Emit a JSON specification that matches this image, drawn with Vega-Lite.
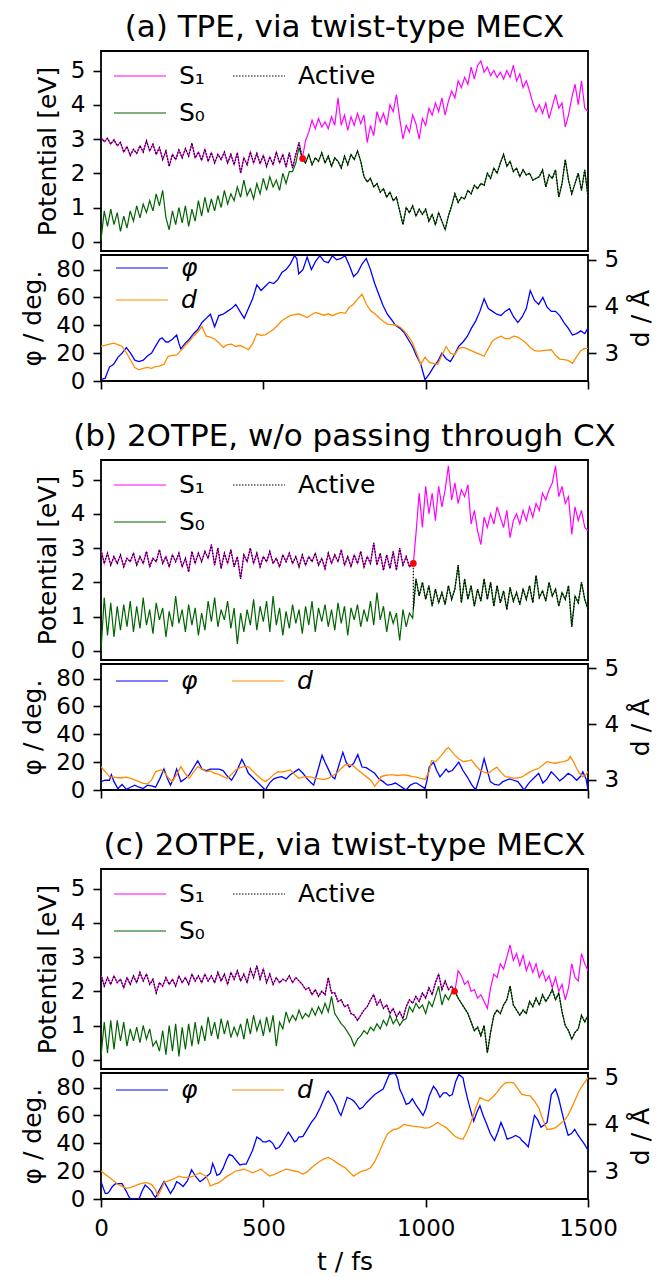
{
"$schema":"https://vega.github.io/schema/vega-lite/v6.json",
"background":"white",
"padding":{"left":19,"top":11,"right":2,"bottom":1},
"bounds":"full",
"spacing":26,
"resolve":{"scale":{"color":"independent","strokeDash":"independent"}},
"config":{
 "font":"DejaVu Sans",
 "view":{"stroke":"#000000","strokeWidth":1.8},
 "axis":{"grid":false,"domain":false,"tickColor":"#000000","tickWidth":1.6,"tickSize":8,"labelFontSize":23,"labelColor":"#000000","labelPadding":8,"titleFontSize":25,"titleFontWeight":"normal","titleColor":"#000000","titlePadding":10,"labelFlush":false,"labelOverlap":false},
 "legend":{"labelFontSize":25,"labelColor":"#000000","symbolStrokeWidth":1.3,"symbolSize":2704,"symbolType":"stroke","padding":0,"labelOffset":12},
 "title":{"fontSize":31,"fontWeight":"normal","color":"#000000","anchor":"middle","frame":"group","baseline":"alphabetic","offset":7},
 "line":{"strokeWidth":1.2}
},
"datasets":{
"H":[{"p":"a","t":621,"v":2.43},{"p":"b","t":962,"v":2.55},{"p":"c","t":1089,"v":2.0}],
"Ea":[
{"t":0,"s1":3.05,"s0":0.05,"act":3.05},{"t":10,"s1":2.92,"s0":0.9,"act":2.92},{"t":20,"s1":3.02,"s0":0.45,"act":3.02},{"t":30,"s1":2.85,"s0":0.95,"act":2.85},{"t":40,"s1":2.98,"s0":0.5,"act":2.98},{"t":50,"s1":2.8,"s0":0.85,"act":2.8},{"t":60,"s1":2.9,"s0":0.3,"act":2.9},{"t":70,"s1":2.62,"s0":0.75,"act":2.62},{"t":80,"s1":2.78,"s0":0.4,"act":2.78},{"t":90,"s1":2.52,"s0":0.9,"act":2.52},
{"t":100,"s1":2.7,"s0":0.6,"act":2.7},{"t":110,"s1":2.58,"s0":1.05,"act":2.58},{"t":120,"s1":2.8,"s0":0.7,"act":2.8},{"t":130,"s1":2.62,"s0":1.1,"act":2.62},{"t":140,"s1":2.95,"s0":0.85,"act":2.95},{"t":150,"s1":2.65,"s0":1.2,"act":2.65},{"t":160,"s1":2.85,"s0":0.9,"act":2.85},{"t":170,"s1":2.55,"s0":1.4,"act":2.55},{"t":180,"s1":2.75,"s0":1.05,"act":2.75},{"t":190,"s1":2.4,"s0":1.5,"act":2.4},
{"t":200,"s1":2.65,"s0":0.7,"act":2.65},{"t":210,"s1":2.2,"s0":0.35,"act":2.2},{"t":220,"s1":2.55,"s0":0.9,"act":2.55},{"t":230,"s1":2.4,"s0":0.5,"act":2.4},{"t":240,"s1":2.68,"s0":1.0,"act":2.68},{"t":250,"s1":2.45,"s0":0.55,"act":2.45},{"t":260,"s1":2.72,"s0":1.05,"act":2.72},{"t":270,"s1":2.5,"s0":0.45,"act":2.5},{"t":280,"s1":2.88,"s0":0.95,"act":2.88},{"t":290,"s1":2.45,"s0":0.6,"act":2.45},
{"t":300,"s1":2.62,"s0":1.2,"act":2.62},{"t":310,"s1":2.38,"s0":0.75,"act":2.38},{"t":320,"s1":2.7,"s0":1.3,"act":2.7},{"t":330,"s1":2.35,"s0":0.85,"act":2.35},{"t":340,"s1":2.6,"s0":1.25,"act":2.6},{"t":350,"s1":2.3,"s0":0.9,"act":2.3},{"t":360,"s1":2.55,"s0":1.35,"act":2.55},{"t":370,"s1":2.4,"s0":1.0,"act":2.4},{"t":380,"s1":2.62,"s0":1.5,"act":2.62},{"t":390,"s1":2.3,"s0":1.1,"act":2.3},
{"t":400,"s1":2.55,"s0":1.4,"act":2.55},{"t":410,"s1":2.25,"s0":1.2,"act":2.25},{"t":420,"s1":2.6,"s0":1.6,"act":2.6},{"t":430,"s1":2.0,"s0":1.3,"act":2.0},{"t":440,"s1":2.45,"s0":1.8,"act":2.45},{"t":450,"s1":2.25,"s0":1.35,"act":2.25},{"t":460,"s1":2.62,"s0":1.55,"act":2.62},{"t":470,"s1":2.3,"s0":1.25,"act":2.3},{"t":480,"s1":2.58,"s0":1.7,"act":2.58},{"t":490,"s1":2.28,"s0":1.4,"act":2.28},
{"t":500,"s1":2.52,"s0":1.85,"act":2.52},{"t":510,"s1":2.2,"s0":1.5,"act":2.2},{"t":520,"s1":2.48,"s0":1.9,"act":2.48},{"t":530,"s1":2.25,"s0":1.6,"act":2.25},{"t":540,"s1":2.62,"s0":1.8,"act":2.62},{"t":550,"s1":2.3,"s0":1.5,"act":2.3},{"t":560,"s1":2.55,"s0":2.0,"act":2.55},{"t":570,"s1":2.18,"s0":1.7,"act":2.18},{"t":580,"s1":2.6,"s0":2.05,"act":2.6},{"t":590,"s1":2.15,"s0":2.05,"act":2.15},
{"t":600,"s1":2.55,"s0":2.3,"act":2.55},{"t":610,"s1":2.9,"s0":2.75,"act":2.9},{"t":620,"s1":2.43,"s0":2.43,"act":2.43},{"t":630,"s1":2.95,"s0":2.3,"act":2.3},{"t":640,"s1":3.2,"s0":2.55,"act":2.55},{"t":650,"s1":3.55,"s0":2.25,"act":2.25},{"t":660,"s1":3.3,"s0":2.45,"act":2.45},{"t":670,"s1":3.6,"s0":2.35,"act":2.35},{"t":680,"s1":3.35,"s0":2.6,"act":2.6},{"t":690,"s1":3.5,"s0":2.3,"act":2.3},
{"t":700,"s1":3.3,"s0":2.5,"act":2.5},{"t":710,"s1":3.65,"s0":2.2,"act":2.2},{"t":720,"s1":3.4,"s0":2.45,"act":2.45},{"t":730,"s1":4.2,"s0":2.35,"act":2.35},{"t":740,"s1":3.4,"s0":2.15,"act":2.15},{"t":750,"s1":3.7,"s0":2.5,"act":2.5},{"t":760,"s1":3.25,"s0":2.25,"act":2.25},{"t":770,"s1":3.65,"s0":2.55,"act":2.55},{"t":780,"s1":3.4,"s0":2.4,"act":2.4},{"t":790,"s1":3.75,"s0":2.65,"act":2.65},
{"t":800,"s1":3.45,"s0":2.35,"act":2.35},{"t":810,"s1":3.7,"s0":1.9,"act":1.9},{"t":820,"s1":2.9,"s0":1.75,"act":1.75},{"t":830,"s1":3.4,"s0":1.85,"act":1.85},{"t":840,"s1":3.1,"s0":1.6,"act":1.6},{"t":850,"s1":3.8,"s0":1.7,"act":1.7},{"t":860,"s1":3.5,"s0":1.45,"act":1.45},{"t":870,"s1":3.75,"s0":1.55,"act":1.55},{"t":880,"s1":3.4,"s0":1.3,"act":1.3},{"t":890,"s1":4.0,"s0":1.45,"act":1.45},
{"t":900,"s1":3.8,"s0":1.2,"act":1.2},{"t":910,"s1":4.3,"s0":1.3,"act":1.3},{"t":920,"s1":3.6,"s0":0.9,"act":0.9},{"t":930,"s1":3.0,"s0":0.5,"act":0.5},{"t":940,"s1":3.4,"s0":1.0,"act":1.0},{"t":950,"s1":3.2,"s0":0.85,"act":0.85},{"t":960,"s1":3.7,"s0":1.05,"act":1.05},{"t":970,"s1":3.45,"s0":0.75,"act":0.75},{"t":980,"s1":3.0,"s0":0.95,"act":0.95},{"t":990,"s1":3.6,"s0":0.8,"act":0.8},
{"t":1000,"s1":3.4,"s0":0.95,"act":0.95},{"t":1010,"s1":3.9,"s0":0.6,"act":0.6},{"t":1020,"s1":3.7,"s0":0.8,"act":0.8},{"t":1030,"s1":4.05,"s0":0.5,"act":0.5},{"t":1040,"s1":3.8,"s0":0.85,"act":0.85},{"t":1050,"s1":4.2,"s0":0.6,"act":0.6},{"t":1060,"s1":3.7,"s0":0.35,"act":0.35},{"t":1070,"s1":4.1,"s0":0.75,"act":0.75},{"t":1080,"s1":4.4,"s0":1.05,"act":1.05},{"t":1090,"s1":4.2,"s0":1.4,"act":1.4},
{"t":1100,"s1":4.7,"s0":1.15,"act":1.15},{"t":1110,"s1":4.5,"s0":1.3,"act":1.3},{"t":1120,"s1":4.8,"s0":1.25,"act":1.25},{"t":1130,"s1":4.6,"s0":1.5,"act":1.5},{"t":1140,"s1":5.1,"s0":1.4,"act":1.4},{"t":1150,"s1":4.75,"s0":1.65,"act":1.65},{"t":1160,"s1":5.15,"s0":1.55,"act":1.55},{"t":1170,"s1":5.28,"s0":1.7,"act":1.7},{"t":1180,"s1":4.95,"s0":1.65,"act":1.65},{"t":1190,"s1":5.1,"s0":2.0,"act":2.0},
{"t":1200,"s1":4.85,"s0":1.85,"act":1.85},{"t":1210,"s1":5.0,"s0":2.15,"act":2.15},{"t":1220,"s1":4.8,"s0":2.0,"act":2.0},{"t":1230,"s1":4.95,"s0":2.3,"act":2.3},{"t":1240,"s1":4.75,"s0":2.55,"act":2.55},{"t":1250,"s1":5.0,"s0":2.2,"act":2.2},{"t":1260,"s1":4.8,"s0":2.35,"act":2.35},{"t":1270,"s1":5.15,"s0":2.05,"act":2.05},{"t":1280,"s1":4.7,"s0":2.15,"act":2.15},{"t":1290,"s1":4.9,"s0":1.9,"act":1.9},
{"t":1300,"s1":4.5,"s0":2.1,"act":2.1},{"t":1310,"s1":4.7,"s0":1.95,"act":1.95},{"t":1320,"s1":4.4,"s0":2.0,"act":2.0},{"t":1330,"s1":4.05,"s0":1.8,"act":1.8},{"t":1340,"s1":3.8,"s0":1.85,"act":1.85},{"t":1350,"s1":4.0,"s0":1.9,"act":1.9},{"t":1360,"s1":3.75,"s0":2.1,"act":2.1},{"t":1370,"s1":4.05,"s0":1.6,"act":1.6},{"t":1380,"s1":3.6,"s0":1.95,"act":1.95},{"t":1390,"s1":3.95,"s0":1.85,"act":1.85},
{"t":1400,"s1":4.3,"s0":2.1,"act":2.1},{"t":1410,"s1":3.9,"s0":1.3,"act":1.3},{"t":1420,"s1":4.05,"s0":1.7,"act":1.7},{"t":1430,"s1":3.35,"s0":2.4,"act":2.4},{"t":1440,"s1":3.7,"s0":1.8,"act":1.8},{"t":1450,"s1":4.2,"s0":1.4,"act":1.4},{"t":1460,"s1":4.6,"s0":1.7,"act":1.7},{"t":1470,"s1":4.0,"s0":2.0,"act":2.0},{"t":1480,"s1":4.7,"s0":1.5,"act":1.5},{"t":1490,"s1":3.9,"s0":2.1,"act":2.1},
{"t":1500,"s1":3.8,"s0":1.3,"act":1.3}],
"Eb":[
{"t":0,"s1":2.95,"s0":0.0,"act":2.95},{"t":10,"s1":2.55,"s0":1.55,"act":2.55},{"t":20,"s1":2.85,"s0":0.45,"act":2.85},{"t":30,"s1":2.5,"s0":1.4,"act":2.5},{"t":40,"s1":2.75,"s0":0.4,"act":2.75},{"t":50,"s1":2.55,"s0":1.3,"act":2.55},{"t":60,"s1":2.8,"s0":0.6,"act":2.8},{"t":70,"s1":2.45,"s0":1.35,"act":2.45},{"t":80,"s1":2.7,"s0":0.7,"act":2.7},{"t":90,"s1":2.6,"s0":1.45,"act":2.6},
{"t":100,"s1":2.85,"s0":0.55,"act":2.85},{"t":110,"s1":2.5,"s0":1.3,"act":2.5},{"t":120,"s1":2.75,"s0":0.65,"act":2.75},{"t":130,"s1":2.55,"s0":1.55,"act":2.55},{"t":140,"s1":2.9,"s0":0.75,"act":2.9},{"t":150,"s1":2.45,"s0":1.2,"act":2.45},{"t":160,"s1":2.7,"s0":0.5,"act":2.7},{"t":170,"s1":2.6,"s0":1.4,"act":2.6},{"t":180,"s1":2.95,"s0":0.9,"act":2.95},{"t":190,"s1":2.55,"s0":1.25,"act":2.55},
{"t":200,"s1":2.75,"s0":0.4,"act":2.75},{"t":210,"s1":2.45,"s0":1.15,"act":2.45},{"t":220,"s1":2.8,"s0":0.7,"act":2.8},{"t":230,"s1":2.6,"s0":1.6,"act":2.6},{"t":240,"s1":2.85,"s0":0.8,"act":2.85},{"t":250,"s1":2.45,"s0":1.2,"act":2.45},{"t":260,"s1":2.7,"s0":0.55,"act":2.7},{"t":270,"s1":2.3,"s0":1.35,"act":2.3},{"t":280,"s1":2.9,"s0":0.75,"act":2.9},{"t":290,"s1":2.55,"s0":1.25,"act":2.55},
{"t":300,"s1":2.85,"s0":0.45,"act":2.85},{"t":310,"s1":2.6,"s0":1.1,"act":2.6},{"t":320,"s1":2.9,"s0":0.6,"act":2.9},{"t":330,"s1":2.7,"s0":1.45,"act":2.7},{"t":340,"s1":3.1,"s0":0.85,"act":3.1},{"t":350,"s1":2.5,"s0":1.55,"act":2.5},{"t":360,"s1":3.0,"s0":0.7,"act":3.0},{"t":370,"s1":2.4,"s0":1.2,"act":2.4},{"t":380,"s1":2.85,"s0":0.9,"act":2.85},{"t":390,"s1":2.55,"s0":1.45,"act":2.55},
{"t":400,"s1":2.95,"s0":0.65,"act":2.95},{"t":410,"s1":2.45,"s0":1.25,"act":2.45},{"t":420,"s1":2.75,"s0":0.2,"act":2.75},{"t":430,"s1":2.1,"s0":1.1,"act":2.1},{"t":440,"s1":2.8,"s0":0.55,"act":2.8},{"t":450,"s1":2.6,"s0":1.2,"act":2.6},{"t":460,"s1":3.0,"s0":0.75,"act":3.0},{"t":470,"s1":2.55,"s0":1.5,"act":2.55},{"t":480,"s1":2.85,"s0":0.6,"act":2.85},{"t":490,"s1":2.45,"s0":1.3,"act":2.45},
{"t":500,"s1":2.75,"s0":0.85,"act":2.75},{"t":510,"s1":2.6,"s0":1.45,"act":2.6},{"t":520,"s1":2.9,"s0":0.55,"act":2.9},{"t":530,"s1":2.55,"s0":1.6,"act":2.55},{"t":540,"s1":2.7,"s0":0.75,"act":2.7},{"t":550,"s1":2.45,"s0":1.25,"act":2.45},{"t":560,"s1":2.8,"s0":0.45,"act":2.8},{"t":570,"s1":2.6,"s0":1.15,"act":2.6},{"t":580,"s1":2.85,"s0":0.65,"act":2.85},{"t":590,"s1":2.55,"s0":1.35,"act":2.55},
{"t":600,"s1":2.75,"s0":0.8,"act":2.75},{"t":610,"s1":2.45,"s0":1.2,"act":2.45},{"t":620,"s1":2.8,"s0":0.5,"act":2.8},{"t":630,"s1":2.5,"s0":1.3,"act":2.5},{"t":640,"s1":2.75,"s0":0.75,"act":2.75},{"t":650,"s1":2.6,"s0":1.45,"act":2.6},{"t":660,"s1":2.85,"s0":0.55,"act":2.85},{"t":670,"s1":2.5,"s0":1.25,"act":2.5},{"t":680,"s1":2.7,"s0":0.85,"act":2.7},{"t":690,"s1":2.4,"s0":1.35,"act":2.4},
{"t":700,"s1":2.85,"s0":0.7,"act":2.85},{"t":710,"s1":2.55,"s0":1.2,"act":2.55},{"t":720,"s1":2.8,"s0":0.6,"act":2.8},{"t":730,"s1":2.6,"s0":1.4,"act":2.6},{"t":740,"s1":2.95,"s0":0.8,"act":2.95},{"t":750,"s1":2.5,"s0":1.3,"act":2.5},{"t":760,"s1":2.75,"s0":0.45,"act":2.75},{"t":770,"s1":2.45,"s0":1.25,"act":2.45},{"t":780,"s1":2.8,"s0":0.9,"act":2.8},{"t":790,"s1":2.55,"s0":1.35,"act":2.55},
{"t":800,"s1":2.9,"s0":0.7,"act":2.9},{"t":810,"s1":2.45,"s0":1.2,"act":2.45},{"t":820,"s1":2.75,"s0":0.85,"act":2.75},{"t":830,"s1":2.55,"s0":1.45,"act":2.55},{"t":840,"s1":3.15,"s0":0.75,"act":3.15},{"t":850,"s1":2.5,"s0":1.7,"act":2.5},{"t":860,"s1":2.85,"s0":0.9,"act":2.85},{"t":870,"s1":2.35,"s0":1.3,"act":2.35},{"t":880,"s1":2.8,"s0":0.55,"act":2.8},{"t":890,"s1":2.4,"s0":1.15,"act":2.4},
{"t":900,"s1":2.9,"s0":0.8,"act":2.9},{"t":910,"s1":2.35,"s0":1.1,"act":2.35},{"t":920,"s1":3.0,"s0":0.3,"act":3.0},{"t":930,"s1":2.5,"s0":1.2,"act":2.5},{"t":940,"s1":2.75,"s0":0.7,"act":2.75},{"t":950,"s1":2.45,"s0":1.1,"act":2.45},{"t":960,"s1":2.55,"s0":0.95,"act":2.55},{"t":962,"s1":2.55,"s0":1.2,"act":2.55},{"t":962,"s1":2.55,"s0":1.2,"act":1.2},{"t":970,"s1":3.4,"s0":2.1,"act":2.1},{"t":980,"s1":4.6,"s0":1.6,"act":1.6},{"t":990,"s1":3.6,"s0":2.0,"act":2.0},
{"t":1000,"s1":4.8,"s0":1.5,"act":1.5},{"t":1010,"s1":4.0,"s0":1.9,"act":1.9},{"t":1020,"s1":4.6,"s0":1.3,"act":1.3},{"t":1030,"s1":3.8,"s0":1.8,"act":1.8},{"t":1040,"s1":4.8,"s0":1.4,"act":1.4},{"t":1050,"s1":4.2,"s0":1.7,"act":1.7},{"t":1060,"s1":4.7,"s0":1.35,"act":1.35},{"t":1070,"s1":5.4,"s0":1.9,"act":1.9},{"t":1080,"s1":4.4,"s0":1.5,"act":1.5},{"t":1090,"s1":4.9,"s0":1.8,"act":1.8},
{"t":1100,"s1":4.3,"s0":2.5,"act":2.5},{"t":1110,"s1":4.7,"s0":1.4,"act":1.4},{"t":1120,"s1":4.5,"s0":2.1,"act":2.1},{"t":1130,"s1":4.85,"s0":1.5,"act":1.5},{"t":1140,"s1":3.7,"s0":1.9,"act":1.9},{"t":1150,"s1":4.1,"s0":1.3,"act":1.3},{"t":1160,"s1":3.5,"s0":1.8,"act":1.8},{"t":1170,"s1":3.1,"s0":1.45,"act":1.45},{"t":1180,"s1":3.9,"s0":2.1,"act":2.1},{"t":1190,"s1":3.6,"s0":1.5,"act":1.5},
{"t":1200,"s1":4.0,"s0":2.0,"act":2.0},{"t":1210,"s1":3.7,"s0":1.3,"act":1.3},{"t":1220,"s1":4.2,"s0":1.9,"act":1.9},{"t":1230,"s1":3.9,"s0":1.4,"act":1.4},{"t":1240,"s1":3.6,"s0":1.75,"act":1.75},{"t":1250,"s1":4.1,"s0":1.2,"act":1.2},{"t":1260,"s1":3.3,"s0":1.85,"act":1.85},{"t":1270,"s1":3.8,"s0":1.45,"act":1.45},{"t":1280,"s1":4.0,"s0":1.7,"act":1.7},{"t":1290,"s1":3.7,"s0":1.35,"act":1.35},
{"t":1300,"s1":4.1,"s0":1.8,"act":1.8},{"t":1310,"s1":3.8,"s0":1.5,"act":1.5},{"t":1320,"s1":4.2,"s0":1.9,"act":1.9},{"t":1330,"s1":3.9,"s0":1.4,"act":1.4},{"t":1340,"s1":4.3,"s0":2.2,"act":2.2},{"t":1350,"s1":4.1,"s0":1.55,"act":1.55},{"t":1360,"s1":4.6,"s0":1.75,"act":1.75},{"t":1370,"s1":4.4,"s0":1.45,"act":1.45},{"t":1380,"s1":4.7,"s0":2.0,"act":2.0},{"t":1390,"s1":4.9,"s0":1.6,"act":1.6},
{"t":1400,"s1":5.4,"s0":1.8,"act":1.8},{"t":1410,"s1":4.5,"s0":1.3,"act":1.3},{"t":1420,"s1":4.8,"s0":1.7,"act":1.7},{"t":1430,"s1":4.3,"s0":1.5,"act":1.5},{"t":1440,"s1":4.5,"s0":1.9,"act":1.9},{"t":1450,"s1":3.4,"s0":0.7,"act":0.7},{"t":1460,"s1":4.2,"s0":1.6,"act":1.6},{"t":1470,"s1":3.8,"s0":1.4,"act":1.4},{"t":1480,"s1":4.1,"s0":2.0,"act":2.0},{"t":1490,"s1":3.6,"s0":1.5,"act":1.5},
{"t":1500,"s1":3.5,"s0":1.2,"act":1.2}],
"Ec":[
{"t":0,"s1":2.5,"s0":0.1,"act":2.5},{"t":10,"s1":2.15,"s0":1.1,"act":2.15},{"t":20,"s1":2.4,"s0":0.2,"act":2.4},{"t":30,"s1":2.2,"s0":1.15,"act":2.2},{"t":40,"s1":2.45,"s0":0.3,"act":2.45},{"t":50,"s1":2.25,"s0":1.15,"act":2.25},{"t":60,"s1":2.35,"s0":0.55,"act":2.35},{"t":70,"s1":2.1,"s0":1.1,"act":2.1},{"t":80,"s1":2.4,"s0":0.4,"act":2.4},{"t":90,"s1":2.2,"s0":0.9,"act":2.2},
{"t":100,"s1":2.45,"s0":0.55,"act":2.45},{"t":110,"s1":2.25,"s0":0.95,"act":2.25},{"t":120,"s1":2.55,"s0":0.5,"act":2.55},{"t":130,"s1":2.3,"s0":1.0,"act":2.3},{"t":140,"s1":2.5,"s0":0.6,"act":2.5},{"t":150,"s1":2.2,"s0":0.9,"act":2.2},{"t":160,"s1":2.35,"s0":0.4,"act":2.35},{"t":170,"s1":1.95,"s0":0.55,"act":1.95},{"t":180,"s1":2.25,"s0":0.25,"act":2.25},{"t":190,"s1":2.15,"s0":0.85,"act":2.15},
{"t":200,"s1":2.4,"s0":0.15,"act":2.4},{"t":210,"s1":2.2,"s0":1.0,"act":2.2},{"t":220,"s1":2.35,"s0":0.25,"act":2.35},{"t":230,"s1":2.15,"s0":1.05,"act":2.15},{"t":240,"s1":2.45,"s0":0.1,"act":2.45},{"t":250,"s1":2.25,"s0":0.95,"act":2.25},{"t":260,"s1":2.4,"s0":0.3,"act":2.4},{"t":270,"s1":2.2,"s0":1.05,"act":2.2},{"t":280,"s1":2.5,"s0":0.4,"act":2.5},{"t":290,"s1":2.3,"s0":1.1,"act":2.3},
{"t":300,"s1":2.45,"s0":0.45,"act":2.45},{"t":310,"s1":2.25,"s0":1.0,"act":2.25},{"t":320,"s1":2.5,"s0":0.55,"act":2.5},{"t":330,"s1":2.3,"s0":1.25,"act":2.3},{"t":340,"s1":2.45,"s0":0.7,"act":2.45},{"t":350,"s1":2.25,"s0":1.1,"act":2.25},{"t":360,"s1":2.55,"s0":0.6,"act":2.55},{"t":370,"s1":2.3,"s0":1.2,"act":2.3},{"t":380,"s1":2.5,"s0":0.75,"act":2.5},{"t":390,"s1":2.2,"s0":1.15,"act":2.2},
{"t":400,"s1":2.55,"s0":0.65,"act":2.55},{"t":410,"s1":2.35,"s0":0.95,"act":2.35},{"t":420,"s1":2.6,"s0":0.7,"act":2.6},{"t":430,"s1":2.3,"s0":1.05,"act":2.3},{"t":440,"s1":2.5,"s0":0.6,"act":2.5},{"t":450,"s1":2.25,"s0":1.2,"act":2.25},{"t":460,"s1":2.65,"s0":0.75,"act":2.65},{"t":470,"s1":2.4,"s0":1.3,"act":2.4},{"t":480,"s1":2.75,"s0":0.85,"act":2.75},{"t":490,"s1":2.35,"s0":1.15,"act":2.35},
{"t":500,"s1":2.65,"s0":0.7,"act":2.65},{"t":510,"s1":2.25,"s0":1.25,"act":2.25},{"t":520,"s1":2.5,"s0":0.8,"act":2.5},{"t":530,"s1":2.2,"s0":1.3,"act":2.2},{"t":540,"s1":2.4,"s0":0.4,"act":2.4},{"t":550,"s1":2.25,"s0":1.1,"act":2.25},{"t":560,"s1":2.35,"s0":0.9,"act":2.35},{"t":570,"s1":2.3,"s0":1.4,"act":2.3},{"t":580,"s1":2.45,"s0":1.1,"act":2.45},{"t":590,"s1":2.25,"s0":1.3,"act":2.25},
{"t":600,"s1":2.4,"s0":1.15,"act":2.4},{"t":610,"s1":2.3,"s0":1.45,"act":2.3},{"t":620,"s1":2.2,"s0":1.2,"act":2.2},{"t":630,"s1":2.05,"s0":1.35,"act":2.05},{"t":640,"s1":2.1,"s0":1.25,"act":2.1},{"t":650,"s1":1.9,"s0":1.5,"act":1.9},{"t":660,"s1":2.05,"s0":1.3,"act":2.05},{"t":670,"s1":1.85,"s0":1.55,"act":1.85},{"t":680,"s1":2.0,"s0":1.35,"act":2.0},{"t":690,"s1":1.9,"s0":1.65,"act":1.9},
{"t":700,"s1":2.4,"s0":1.4,"act":2.4},{"t":710,"s1":1.95,"s0":1.85,"act":1.95},{"t":720,"s1":1.95,"s0":1.35,"act":1.95},{"t":730,"s1":1.7,"s0":1.2,"act":1.7},{"t":740,"s1":1.75,"s0":1.05,"act":1.75},{"t":750,"s1":1.55,"s0":0.95,"act":1.55},{"t":760,"s1":1.6,"s0":0.8,"act":1.6},{"t":770,"s1":1.35,"s0":0.65,"act":1.35},{"t":780,"s1":1.3,"s0":0.4,"act":1.3},{"t":790,"s1":1.15,"s0":0.6,"act":1.15},
{"t":800,"s1":1.3,"s0":0.7,"act":1.3},{"t":810,"s1":1.45,"s0":0.85,"act":1.45},{"t":820,"s1":1.55,"s0":0.75,"act":1.55},{"t":830,"s1":1.75,"s0":0.95,"act":1.75},{"t":840,"s1":1.9,"s0":0.85,"act":1.9},{"t":850,"s1":1.6,"s0":1.05,"act":1.6},{"t":860,"s1":1.75,"s0":0.9,"act":1.75},{"t":870,"s1":1.5,"s0":1.15,"act":1.5},{"t":880,"s1":1.6,"s0":1.0,"act":1.6},{"t":890,"s1":1.35,"s0":1.3,"act":1.35},
{"t":900,"s1":1.5,"s0":1.05,"act":1.5},{"t":910,"s1":1.25,"s0":1.2,"act":1.25},{"t":920,"s1":1.4,"s0":1.0,"act":1.4},{"t":930,"s1":1.2,"s0":1.15,"act":1.2},{"t":940,"s1":1.55,"s0":1.2,"act":1.55},{"t":950,"s1":1.75,"s0":1.55,"act":1.75},{"t":960,"s1":1.65,"s0":1.4,"act":1.65},{"t":970,"s1":1.85,"s0":1.65,"act":1.85},{"t":980,"s1":1.7,"s0":1.5,"act":1.7},{"t":990,"s1":1.95,"s0":1.6,"act":1.95},
{"t":1000,"s1":1.8,"s0":1.35,"act":1.8},{"t":1010,"s1":2.1,"s0":1.7,"act":2.1},{"t":1020,"s1":1.9,"s0":1.55,"act":1.9},{"t":1030,"s1":2.25,"s0":1.85,"act":2.25},{"t":1040,"s1":2.5,"s0":2.15,"act":2.5},{"t":1050,"s1":2.05,"s0":1.6,"act":2.05},{"t":1060,"s1":2.3,"s0":1.9,"act":2.3},{"t":1070,"s1":2.05,"s0":1.75,"act":2.05},{"t":1080,"s1":2.15,"s0":1.95,"act":2.15},{"t":1090,"s1":2.0,"s0":2.0,"act":2.0},
{"t":1100,"s1":2.6,"s0":1.8,"act":1.8},{"t":1110,"s1":2.45,"s0":1.65,"act":1.65},{"t":1120,"s1":2.2,"s0":1.5,"act":1.5},{"t":1130,"s1":2.3,"s0":1.35,"act":1.35},{"t":1140,"s1":2.0,"s0":1.1,"act":1.1},{"t":1150,"s1":2.05,"s0":0.85,"act":0.85},{"t":1160,"s1":1.8,"s0":0.95,"act":0.95},{"t":1170,"s1":1.9,"s0":0.7,"act":0.7},{"t":1180,"s1":1.7,"s0":1.0,"act":1.0},{"t":1190,"s1":1.5,"s0":0.2,"act":0.2},
{"t":1200,"s1":2.1,"s0":0.8,"act":0.8},{"t":1210,"s1":2.5,"s0":1.3,"act":1.3},{"t":1220,"s1":2.4,"s0":1.45,"act":1.45},{"t":1230,"s1":2.8,"s0":1.35,"act":1.35},{"t":1240,"s1":2.65,"s0":1.6,"act":1.6},{"t":1250,"s1":3.0,"s0":1.75,"act":1.75},{"t":1260,"s1":3.35,"s0":2.15,"act":2.15},{"t":1270,"s1":2.9,"s0":1.6,"act":1.6},{"t":1280,"s1":3.1,"s0":1.45,"act":1.45},{"t":1290,"s1":2.75,"s0":1.3,"act":1.3},
{"t":1300,"s1":3.05,"s0":1.45,"act":1.45},{"t":1310,"s1":2.6,"s0":1.35,"act":1.35},{"t":1320,"s1":2.85,"s0":1.7,"act":1.7},{"t":1330,"s1":2.55,"s0":1.55,"act":1.55},{"t":1340,"s1":2.8,"s0":1.8,"act":1.8},{"t":1350,"s1":2.4,"s0":1.6,"act":1.6},{"t":1360,"s1":2.6,"s0":1.9,"act":1.9},{"t":1370,"s1":2.3,"s0":1.7,"act":1.7},{"t":1380,"s1":2.45,"s0":1.85,"act":1.85},{"t":1390,"s1":2.1,"s0":2.05,"act":2.05},
{"t":1400,"s1":2.4,"s0":1.75,"act":1.75},{"t":1410,"s1":2.0,"s0":1.95,"act":1.95},{"t":1420,"s1":2.2,"s0":1.4,"act":1.4},{"t":1430,"s1":1.75,"s0":1.0,"act":1.0},{"t":1440,"s1":2.1,"s0":0.85,"act":0.85},{"t":1450,"s1":2.8,"s0":0.6,"act":0.6},{"t":1460,"s1":2.4,"s0":0.8,"act":0.8},{"t":1470,"s1":2.3,"s0":0.9,"act":0.9},{"t":1480,"s1":3.1,"s0":1.3,"act":1.3},{"t":1490,"s1":2.8,"s0":1.1,"act":1.1},
{"t":1500,"s1":2.6,"s0":1.3,"act":1.3}],
"Pa":[{"t":0,"v":1},{"t":13,"v":2},{"t":26,"v":10},{"t":39,"v":12},{"t":52,"v":17},{"t":65,"v":20},{"t":78,"v":24},{"t":91,"v":20},{"t":104,"v":15},{"t":117,"v":14},{"t":130,"v":15},{"t":143,"v":18},{"t":156,"v":20},{"t":168,"v":25},{"t":181,"v":30},{"t":188,"v":31},{"t":200,"v":28},{"t":207,"v":28},{"t":220,"v":30},{"t":233,"v":33},{"t":240,"v":27},{"t":246,"v":23},{"t":259,"v":27},{"t":272,"v":30},{"t":285,"v":34},{"t":298,"v":37},{"t":311,"v":42},{"t":324,"v":45},{"t":337,"v":48},{"t":350,"v":39},{"t":363,"v":47},{"t":376,"v":48},{"t":389,"v":50},{"t":402,"v":52},{"t":415,"v":55},{"t":428,"v":50},{"t":441,"v":45},{"t":454,"v":52},{"t":467,"v":59},{"t":480,"v":69},{"t":493,"v":65},{"t":506,"v":68},{"t":519,"v":71},{"t":532,"v":70},{"t":545,"v":73},{"t":557,"v":78},{"t":570,"v":80},{"t":583,"v":84},{"t":596,"v":90},{"t":603,"v":88},{"t":609,"v":77},{"t":622,"v":80},{"t":635,"v":89},{"t":648,"v":80},{"t":661,"v":86},{"t":674,"v":90},{"t":687,"v":86},{"t":700,"v":85},{"t":713,"v":90},{"t":726,"v":87},{"t":739,"v":88},{"t":752,"v":90},{"t":765,"v":83},{"t":778,"v":75},{"t":791,"v":78},{"t":804,"v":84},{"t":817,"v":88},{"t":830,"v":80},{"t":843,"v":70},{"t":856,"v":62},{"t":869,"v":54},{"t":882,"v":48},{"t":895,"v":44},{"t":907,"v":40},{"t":920,"v":38},{"t":933,"v":35},{"t":946,"v":30},{"t":959,"v":25},{"t":972,"v":18},{"t":985,"v":12},{"t":998,"v":1},{"t":1011,"v":5},{"t":1024,"v":10},{"t":1037,"v":14},{"t":1050,"v":20},{"t":1063,"v":16},{"t":1076,"v":14},{"t":1089,"v":19},{"t":1102,"v":25},{"t":1115,"v":28},{"t":1128,"v":32},{"t":1141,"v":38},{"t":1154,"v":43},{"t":1167,"v":50},{"t":1180,"v":59},{"t":1193,"v":52},{"t":1206,"v":50},{"t":1219,"v":48},{"t":1232,"v":47},{"t":1245,"v":50},{"t":1258,"v":52},{"t":1271,"v":46},{"t":1284,"v":42},{"t":1297,"v":46},{"t":1310,"v":52},{"t":1322,"v":65},{"t":1335,"v":58},{"t":1348,"v":55},{"t":1361,"v":60},{"t":1374,"v":53},{"t":1387,"v":50},{"t":1400,"v":50},{"t":1413,"v":47},{"t":1426,"v":42},{"t":1439,"v":38},{"t":1452,"v":33},{"t":1465,"v":34},{"t":1478,"v":36},{"t":1490,"v":34},{"t":1500,"v":38}],
"Da":[{"t":0,"v":3.14},{"t":20,"v":3.18},{"t":39,"v":3.21},{"t":52,"v":3.18},{"t":65,"v":3.14},{"t":78,"v":3.01},{"t":91,"v":2.85},{"t":104,"v":2.69},{"t":117,"v":2.64},{"t":130,"v":2.67},{"t":143,"v":2.69},{"t":156,"v":2.67},{"t":168,"v":2.71},{"t":181,"v":2.72},{"t":194,"v":2.76},{"t":207,"v":2.93},{"t":220,"v":2.95},{"t":233,"v":2.96},{"t":246,"v":3.05},{"t":259,"v":3.16},{"t":272,"v":3.25},{"t":285,"v":3.36},{"t":298,"v":3.45},{"t":311,"v":3.57},{"t":324,"v":3.36},{"t":337,"v":3.34},{"t":350,"v":3.3},{"t":363,"v":3.22},{"t":376,"v":3.12},{"t":389,"v":3.18},{"t":402,"v":3.19},{"t":415,"v":3.14},{"t":428,"v":3.16},{"t":441,"v":3.12},{"t":454,"v":3.07},{"t":467,"v":3.2},{"t":480,"v":3.41},{"t":493,"v":3.38},{"t":506,"v":3.39},{"t":519,"v":3.45},{"t":532,"v":3.51},{"t":545,"v":3.6},{"t":557,"v":3.69},{"t":570,"v":3.75},{"t":583,"v":3.8},{"t":596,"v":3.82},{"t":609,"v":3.84},{"t":622,"v":3.8},{"t":635,"v":3.76},{"t":648,"v":3.82},{"t":661,"v":3.87},{"t":674,"v":3.84},{"t":687,"v":3.81},{"t":700,"v":3.84},{"t":713,"v":3.8},{"t":726,"v":3.84},{"t":739,"v":3.87},{"t":752,"v":3.85},{"t":765,"v":3.98},{"t":778,"v":4.05},{"t":791,"v":4.16},{"t":804,"v":4.26},{"t":817,"v":4.05},{"t":830,"v":3.91},{"t":843,"v":3.84},{"t":856,"v":3.76},{"t":869,"v":3.68},{"t":882,"v":3.62},{"t":895,"v":3.61},{"t":907,"v":3.6},{"t":920,"v":3.56},{"t":933,"v":3.48},{"t":946,"v":3.36},{"t":959,"v":3.23},{"t":972,"v":3.0},{"t":985,"v":2.76},{"t":998,"v":2.91},{"t":1011,"v":2.8},{"t":1024,"v":2.78},{"t":1037,"v":2.76},{"t":1050,"v":2.95},{"t":1063,"v":3.14},{"t":1076,"v":3.0},{"t":1089,"v":2.96},{"t":1102,"v":3.1},{"t":1115,"v":3.12},{"t":1128,"v":3.09},{"t":1141,"v":3.05},{"t":1154,"v":3.01},{"t":1167,"v":2.97},{"t":1180,"v":2.93},{"t":1193,"v":3.1},{"t":1206,"v":3.26},{"t":1219,"v":3.32},{"t":1232,"v":3.36},{"t":1245,"v":3.31},{"t":1258,"v":3.31},{"t":1271,"v":3.36},{"t":1284,"v":3.34},{"t":1297,"v":3.28},{"t":1310,"v":3.21},{"t":1322,"v":3.12},{"t":1335,"v":3.05},{"t":1348,"v":3.04},{"t":1361,"v":3.05},{"t":1374,"v":3.06},{"t":1387,"v":3.07},{"t":1400,"v":2.95},{"t":1413,"v":2.87},{"t":1426,"v":2.86},{"t":1439,"v":2.84},{"t":1452,"v":2.78},{"t":1465,"v":2.92},{"t":1478,"v":3.05},{"t":1490,"v":3.1},{"t":1500,"v":3.1}],
"Pb":[{"t":0,"v":6},{"t":13,"v":7},{"t":26,"v":7},{"t":32,"v":11},{"t":40,"v":6},{"t":52,"v":1},{"t":65,"v":4},{"t":78,"v":0.5},{"t":91,"v":2},{"t":104,"v":3.5},{"t":117,"v":2},{"t":130,"v":1},{"t":143,"v":3.5},{"t":156,"v":3},{"t":168,"v":2},{"t":181,"v":8},{"t":194,"v":15},{"t":205,"v":8},{"t":214,"v":3.5},{"t":225,"v":9},{"t":233,"v":15},{"t":246,"v":6},{"t":259,"v":8},{"t":272,"v":11},{"t":285,"v":16},{"t":298,"v":21},{"t":311,"v":15},{"t":324,"v":14},{"t":337,"v":15},{"t":350,"v":15},{"t":363,"v":15},{"t":376,"v":14},{"t":389,"v":10},{"t":402,"v":7},{"t":415,"v":12},{"t":434,"v":22},{"t":447,"v":16},{"t":454,"v":12},{"t":467,"v":9},{"t":480,"v":6},{"t":493,"v":3},{"t":506,"v":0},{"t":519,"v":5},{"t":532,"v":8},{"t":545,"v":9},{"t":557,"v":9.5},{"t":570,"v":8},{"t":583,"v":11},{"t":596,"v":13},{"t":609,"v":15},{"t":622,"v":12},{"t":635,"v":8},{"t":648,"v":5},{"t":655,"v":3.5},{"t":668,"v":14},{"t":681,"v":25},{"t":690,"v":20},{"t":700,"v":15},{"t":710,"v":10},{"t":720,"v":8},{"t":733,"v":18},{"t":745,"v":27},{"t":755,"v":20},{"t":765,"v":16.5},{"t":778,"v":19},{"t":791,"v":25.5},{"t":804,"v":16.5},{"t":817,"v":16},{"t":830,"v":14},{"t":843,"v":12},{"t":856,"v":8},{"t":869,"v":6},{"t":882,"v":3.5},{"t":895,"v":4},{"t":907,"v":5},{"t":920,"v":3},{"t":933,"v":1},{"t":940,"v":0},{"t":953,"v":3.5},{"t":966,"v":5},{"t":972,"v":5},{"t":985,"v":3},{"t":998,"v":1},{"t":1005,"v":8},{"t":1011,"v":16.5},{"t":1024,"v":20},{"t":1034,"v":14},{"t":1044,"v":9.5},{"t":1053,"v":12},{"t":1063,"v":15},{"t":1070,"v":13},{"t":1082,"v":14},{"t":1092,"v":17},{"t":1102,"v":20},{"t":1115,"v":14},{"t":1128,"v":9.5},{"t":1141,"v":4},{"t":1154,"v":0},{"t":1167,"v":10},{"t":1180,"v":22.5},{"t":1190,"v":14},{"t":1199,"v":6},{"t":1212,"v":4},{"t":1225,"v":3.5},{"t":1238,"v":6},{"t":1258,"v":8},{"t":1271,"v":7},{"t":1284,"v":6},{"t":1297,"v":2},{"t":1303,"v":0},{"t":1315,"v":4},{"t":1322,"v":6},{"t":1335,"v":9},{"t":1348,"v":12},{"t":1361,"v":5},{"t":1374,"v":8},{"t":1387,"v":13},{"t":1400,"v":10},{"t":1413,"v":6.6},{"t":1426,"v":9},{"t":1439,"v":12},{"t":1452,"v":10},{"t":1465,"v":7},{"t":1478,"v":10},{"t":1484,"v":13},{"t":1494,"v":8},{"t":1500,"v":0}],
"Db":[{"t":0,"v":3.24},{"t":13,"v":3.15},{"t":26,"v":3.06},{"t":39,"v":3.05},{"t":52,"v":3.04},{"t":65,"v":3.04},{"t":78,"v":3.05},{"t":91,"v":3.03},{"t":104,"v":3.0},{"t":117,"v":2.97},{"t":130,"v":2.94},{"t":143,"v":2.93},{"t":156,"v":3.0},{"t":168,"v":3.15},{"t":181,"v":3.17},{"t":188,"v":3.18},{"t":200,"v":3.1},{"t":210,"v":3.02},{"t":220,"v":2.97},{"t":233,"v":3.1},{"t":246,"v":3.24},{"t":259,"v":3.12},{"t":272,"v":3.03},{"t":285,"v":3.14},{"t":298,"v":3.24},{"t":311,"v":3.2},{"t":324,"v":3.15},{"t":337,"v":3.16},{"t":350,"v":3.12},{"t":363,"v":3.1},{"t":376,"v":3.06},{"t":389,"v":3.03},{"t":402,"v":3.1},{"t":415,"v":3.18},{"t":428,"v":3.22},{"t":441,"v":3.24},{"t":454,"v":3.24},{"t":467,"v":3.16},{"t":480,"v":3.09},{"t":493,"v":3.02},{"t":506,"v":2.97},{"t":519,"v":3.02},{"t":532,"v":3.1},{"t":545,"v":3.15},{"t":557,"v":3.14},{"t":570,"v":3.16},{"t":583,"v":3.18},{"t":596,"v":3.1},{"t":609,"v":3.03},{"t":622,"v":3.05},{"t":635,"v":3.06},{"t":648,"v":3.05},{"t":661,"v":3.03},{"t":674,"v":3.02},{"t":687,"v":3.01},{"t":700,"v":3.03},{"t":713,"v":3.08},{"t":726,"v":3.12},{"t":739,"v":3.2},{"t":752,"v":3.27},{"t":765,"v":3.28},{"t":778,"v":3.25},{"t":791,"v":3.18},{"t":804,"v":3.12},{"t":817,"v":3.06},{"t":830,"v":3.0},{"t":843,"v":2.89},{"t":856,"v":2.98},{"t":862,"v":3.06},{"t":875,"v":3.08},{"t":888,"v":3.09},{"t":901,"v":3.09},{"t":914,"v":3.08},{"t":933,"v":3.09},{"t":946,"v":3.08},{"t":959,"v":3.06},{"t":972,"v":3.05},{"t":985,"v":3.03},{"t":998,"v":3.01},{"t":1011,"v":3.15},{"t":1018,"v":3.35},{"t":1031,"v":3.33},{"t":1037,"v":3.37},{"t":1050,"v":3.45},{"t":1063,"v":3.55},{"t":1070,"v":3.58},{"t":1082,"v":3.5},{"t":1089,"v":3.45},{"t":1102,"v":3.38},{"t":1115,"v":3.33},{"t":1128,"v":3.34},{"t":1141,"v":3.36},{"t":1154,"v":3.26},{"t":1167,"v":3.18},{"t":1180,"v":3.14},{"t":1193,"v":3.12},{"t":1206,"v":3.18},{"t":1219,"v":3.23},{"t":1232,"v":3.14},{"t":1245,"v":3.06},{"t":1258,"v":3.05},{"t":1271,"v":3.03},{"t":1284,"v":3.04},{"t":1296,"v":3.05},{"t":1309,"v":3.1},{"t":1322,"v":3.15},{"t":1335,"v":3.18},{"t":1348,"v":3.21},{"t":1361,"v":3.27},{"t":1374,"v":3.33},{"t":1387,"v":3.31},{"t":1400,"v":3.3},{"t":1413,"v":3.32},{"t":1426,"v":3.33},{"t":1439,"v":3.36},{"t":1445,"v":3.42},{"t":1455,"v":3.33},{"t":1465,"v":3.21},{"t":1474,"v":3.12},{"t":1484,"v":3.06},{"t":1492,"v":3.08},{"t":1500,"v":3.15}],
"Pc":[{"t":0,"v":12.5},{"t":7,"v":8},{"t":13,"v":4},{"t":20,"v":4},{"t":26,"v":5.5},{"t":35,"v":9},{"t":45,"v":11},{"t":55,"v":11},{"t":65,"v":11},{"t":72,"v":8},{"t":78,"v":5.5},{"t":85,"v":2},{"t":91,"v":0},{"t":104,"v":0},{"t":117,"v":0},{"t":127,"v":6},{"t":136,"v":10},{"t":146,"v":8},{"t":156,"v":5.5},{"t":162,"v":3},{"t":168,"v":1},{"t":181,"v":7},{"t":194,"v":12.5},{"t":205,"v":8},{"t":214,"v":4},{"t":225,"v":8},{"t":233,"v":12.5},{"t":243,"v":11},{"t":253,"v":9},{"t":266,"v":13},{"t":279,"v":21},{"t":292,"v":16},{"t":305,"v":12.5},{"t":315,"v":14},{"t":324,"v":16},{"t":337,"v":18.5},{"t":344,"v":25.5},{"t":350,"v":22},{"t":357,"v":17},{"t":366,"v":18},{"t":376,"v":22},{"t":386,"v":28},{"t":395,"v":32},{"t":405,"v":31},{"t":415,"v":28},{"t":428,"v":24.4},{"t":437,"v":25},{"t":447,"v":25},{"t":457,"v":30},{"t":467,"v":35},{"t":480,"v":44.5},{"t":490,"v":43},{"t":499,"v":41},{"t":509,"v":41},{"t":519,"v":42},{"t":529,"v":40},{"t":538,"v":36},{"t":548,"v":37},{"t":557,"v":40},{"t":567,"v":44},{"t":577,"v":48},{"t":586,"v":45},{"t":596,"v":41},{"t":603,"v":42},{"t":609,"v":44.5},{"t":622,"v":45},{"t":635,"v":50},{"t":648,"v":55},{"t":661,"v":59},{"t":674,"v":65},{"t":687,"v":72},{"t":694,"v":76},{"t":700,"v":77.6},{"t":713,"v":73},{"t":726,"v":67},{"t":732,"v":63},{"t":739,"v":60},{"t":748,"v":66},{"t":758,"v":73},{"t":768,"v":72},{"t":778,"v":70.5},{"t":787,"v":68},{"t":797,"v":64.6},{"t":807,"v":66},{"t":817,"v":69},{"t":830,"v":72},{"t":843,"v":75},{"t":856,"v":77},{"t":869,"v":79},{"t":878,"v":84},{"t":888,"v":89.5},{"t":897,"v":90},{"t":907,"v":90},{"t":914,"v":86},{"t":920,"v":79},{"t":930,"v":74},{"t":940,"v":68},{"t":950,"v":69},{"t":959,"v":72},{"t":969,"v":68},{"t":979,"v":64.6},{"t":992,"v":60},{"t":1001,"v":65},{"t":1011,"v":74},{"t":1024,"v":81},{"t":1034,"v":78},{"t":1044,"v":73},{"t":1054,"v":76},{"t":1063,"v":76.4},{"t":1073,"v":74},{"t":1082,"v":75},{"t":1092,"v":84},{"t":1102,"v":89.5},{"t":1115,"v":87},{"t":1121,"v":80},{"t":1128,"v":73},{"t":1138,"v":64},{"t":1148,"v":56},{"t":1157,"v":62},{"t":1167,"v":67},{"t":1177,"v":60},{"t":1186,"v":55},{"t":1199,"v":47},{"t":1212,"v":42},{"t":1222,"v":48},{"t":1232,"v":55},{"t":1241,"v":50},{"t":1251,"v":43},{"t":1264,"v":44},{"t":1277,"v":45.7},{"t":1290,"v":44},{"t":1296,"v":42},{"t":1306,"v":40},{"t":1316,"v":37.4},{"t":1325,"v":48},{"t":1335,"v":60},{"t":1345,"v":57},{"t":1355,"v":51.6},{"t":1364,"v":53},{"t":1374,"v":55},{"t":1387,"v":75},{"t":1400,"v":79},{"t":1410,"v":72},{"t":1420,"v":62},{"t":1430,"v":53},{"t":1439,"v":45.7},{"t":1449,"v":47},{"t":1459,"v":50},{"t":1469,"v":46},{"t":1478,"v":43},{"t":1490,"v":39},{"t":1500,"v":35}],
"Dc":[{"t":0,"v":3.0},{"t":13,"v":2.93},{"t":26,"v":2.86},{"t":39,"v":2.79},{"t":52,"v":2.71},{"t":65,"v":2.67},{"t":78,"v":2.63},{"t":91,"v":2.65},{"t":104,"v":2.68},{"t":117,"v":2.72},{"t":136,"v":2.75},{"t":146,"v":2.74},{"t":156,"v":2.71},{"t":168,"v":2.6},{"t":175,"v":2.46},{"t":185,"v":2.6},{"t":194,"v":2.75},{"t":207,"v":2.79},{"t":220,"v":2.82},{"t":233,"v":2.86},{"t":240,"v":2.89},{"t":250,"v":2.87},{"t":259,"v":2.86},{"t":272,"v":2.87},{"t":285,"v":2.89},{"t":295,"v":2.93},{"t":305,"v":2.96},{"t":315,"v":2.92},{"t":324,"v":2.89},{"t":337,"v":2.68},{"t":350,"v":2.72},{"t":363,"v":2.75},{"t":376,"v":2.82},{"t":389,"v":2.89},{"t":402,"v":2.94},{"t":415,"v":3.0},{"t":428,"v":3.02},{"t":441,"v":3.04},{"t":454,"v":3.0},{"t":467,"v":2.96},{"t":480,"v":3.0},{"t":493,"v":3.04},{"t":506,"v":2.96},{"t":519,"v":2.89},{"t":532,"v":2.92},{"t":544,"v":2.96},{"t":557,"v":3.0},{"t":570,"v":3.04},{"t":583,"v":3.02},{"t":596,"v":3.0},{"t":609,"v":2.98},{"t":622,"v":2.93},{"t":635,"v":2.98},{"t":648,"v":3.07},{"t":661,"v":3.14},{"t":674,"v":3.21},{"t":687,"v":3.26},{"t":700,"v":3.29},{"t":713,"v":3.24},{"t":726,"v":3.18},{"t":739,"v":3.12},{"t":752,"v":3.07},{"t":765,"v":2.98},{"t":778,"v":2.89},{"t":791,"v":2.95},{"t":804,"v":3.0},{"t":817,"v":3.02},{"t":830,"v":3.07},{"t":843,"v":3.2},{"t":856,"v":3.39},{"t":869,"v":3.6},{"t":882,"v":3.79},{"t":892,"v":3.85},{"t":901,"v":3.89},{"t":910,"v":3.9},{"t":920,"v":3.93},{"t":933,"v":4.0},{"t":946,"v":3.98},{"t":959,"v":3.96},{"t":972,"v":3.95},{"t":985,"v":3.94},{"t":998,"v":3.92},{"t":1011,"v":3.93},{"t":1024,"v":3.98},{"t":1037,"v":4.04},{"t":1050,"v":3.98},{"t":1063,"v":3.93},{"t":1076,"v":3.84},{"t":1089,"v":3.75},{"t":1102,"v":3.7},{"t":1115,"v":3.68},{"t":1128,"v":3.85},{"t":1141,"v":4.07},{"t":1154,"v":4.35},{"t":1167,"v":4.57},{"t":1180,"v":4.53},{"t":1193,"v":4.5},{"t":1206,"v":4.58},{"t":1219,"v":4.68},{"t":1232,"v":4.8},{"t":1245,"v":4.89},{"t":1258,"v":4.9},{"t":1271,"v":4.89},{"t":1284,"v":4.76},{"t":1296,"v":4.64},{"t":1309,"v":4.62},{"t":1322,"v":4.61},{"t":1335,"v":4.5},{"t":1348,"v":4.36},{"t":1361,"v":4.1},{"t":1374,"v":3.89},{"t":1387,"v":3.9},{"t":1400,"v":3.93},{"t":1413,"v":4.0},{"t":1426,"v":4.07},{"t":1439,"v":4.2},{"t":1452,"v":4.39},{"t":1462,"v":4.55},{"t":1472,"v":4.71},{"t":1485,"v":4.85},{"t":1500,"v":5.0}]
},
"vconcat":[
{"bounds":"flush","spacing":4,"resolve":{"scale":{"color":"independent","strokeDash":"independent"}},"vconcat":[
 {"width":487,"height":200,"title":{"text":"(a) TPE, via twist-type MECX"},"data":{"name":"Ea"},
  "layer":[
   {"mark":{"type":"line","clip":true},"encoding":{"x":{"field":"t","type":"quantitative","scale":{"domain":[0,1500],"nice":false},"axis":null},"y":{"field":"s1","type":"quantitative","scale":{"domain":[-0.27,5.57],"nice":false,"zero":false},"axis":{"values":[0,1,2,3,4,5],"title":"Potential [eV]"}},"color":{"datum":"S₁","scale":{"domain":["S₁","S₀","Active"],"range":["#ff00ff","#006400","#000000"]},"legend":{"title":null,"orient":"none","legendX":12,"legendY":12,"columns":2,"columnPadding":27,"rowPadding":11,"clipHeight":26}},"strokeDash":{"datum":"S₁","scale":{"domain":["S₁","S₀","Active"],"range":[[1,0],[1,0],[1.5,1.5]]},"legend":{"title":null,"orient":"none","legendX":12,"legendY":12,"columns":2,"columnPadding":27,"rowPadding":11,"clipHeight":26}}}},
   {"mark":{"type":"line","clip":true},"encoding":{"x":{"field":"t","type":"quantitative","scale":{"domain":[0,1500],"nice":false},"axis":null},"y":{"field":"s0","type":"quantitative","scale":{"domain":[-0.27,5.57],"nice":false,"zero":false},"axis":{"values":[0,1,2,3,4,5],"title":"Potential [eV]"}},"color":{"datum":"S₀","scale":{"domain":["S₁","S₀","Active"],"range":["#ff00ff","#006400","#000000"]},"legend":{"title":null,"orient":"none","legendX":12,"legendY":12,"columns":2,"columnPadding":27,"rowPadding":11,"clipHeight":26}},"strokeDash":{"datum":"S₀","scale":{"domain":["S₁","S₀","Active"],"range":[[1,0],[1,0],[1.5,1.5]]},"legend":{"title":null,"orient":"none","legendX":12,"legendY":12,"columns":2,"columnPadding":27,"rowPadding":11,"clipHeight":26}}}},
   {"mark":{"type":"line","clip":true},"encoding":{"x":{"field":"t","type":"quantitative","scale":{"domain":[0,1500],"nice":false},"axis":null},"y":{"field":"act","type":"quantitative","scale":{"domain":[-0.27,5.57],"nice":false,"zero":false},"axis":{"values":[0,1,2,3,4,5],"title":"Potential [eV]"}},"color":{"datum":"Active","scale":{"domain":["S₁","S₀","Active"],"range":["#ff00ff","#006400","#000000"]},"legend":{"title":null,"orient":"none","legendX":12,"legendY":12,"columns":2,"columnPadding":27,"rowPadding":11,"clipHeight":26}},"strokeDash":{"datum":"Active","scale":{"domain":["S₁","S₀","Active"],"range":[[1,0],[1,0],[1.5,1.5]]},"legend":{"title":null,"orient":"none","legendX":12,"legendY":12,"columns":2,"columnPadding":27,"rowPadding":11,"clipHeight":26}}}},
   {"data":{"name":"H"},"transform":[{"filter":"datum.p==='a'"}],"mark":{"type":"circle","color":"#ff0000","size":45,"opacity":1},"encoding":{"x":{"field":"t","type":"quantitative","scale":{"domain":[0,1500],"nice":false},"axis":null},"y":{"field":"v","type":"quantitative","scale":{"domain":[-0.27,5.57],"nice":false,"zero":false},"axis":{"values":[0,1,2,3,4,5],"title":"Potential [eV]"}}}}
  ]},
 {"width":487,"height":126,
  "layer":[
   {"data":{"name":"Pa"},"mark":{"type":"line","clip":true,"strokeWidth":1.3},"encoding":{"x":{"field":"t","type":"quantitative","scale":{"domain":[0,1500],"nice":false},"axis":{"values":[0,500,1000,1500],"labels":false,"title":null}},"y":{"field":"v","type":"quantitative","scale":{"domain":[0,90.5],"nice":false},"axis":{"values":[0,20,40,60,80],"title":"φ / deg."}},"color":{"datum":"φ","scale":{"domain":["φ","d"],"range":["#0000ff","#ff8c00"]},"legend":{"title":null,"orient":"none","legendX":14,"legendY":2,"columns":1,"rowPadding":7,"clipHeight":22,"labelFontStyle":"italic"}}}},
   {"data":{"name":"Da"},"mark":{"type":"line","clip":true,"strokeWidth":1.3},"encoding":{"x":{"field":"t","type":"quantitative","scale":{"domain":[0,1500],"nice":false},"axis":{"values":[0,500,1000,1500],"labels":false,"title":null}},"y":{"field":"v","type":"quantitative","scale":{"domain":[2.4,5.1],"nice":false,"zero":false},"axis":{"orient":"right","values":[3,4,5],"title":"d / Å","titleAngle":270,"titleBaseline":"top"}},"color":{"datum":"d","scale":{"domain":["φ","d"],"range":["#0000ff","#ff8c00"]},"legend":{"title":null,"orient":"none","legendX":14,"legendY":2,"columns":1,"rowPadding":7,"clipHeight":22,"labelFontStyle":"italic"}}}}
  ],
  "resolve":{"scale":{"y":"independent"}}}
]},
{"bounds":"flush","spacing":4,"resolve":{"scale":{"color":"independent","strokeDash":"independent"}},"vconcat":[
 {"width":487,"height":200,"title":{"text":"(b) 2OTPE, w/o passing through CX"},"data":{"name":"Eb"},
  "layer":[
   {"mark":{"type":"line","clip":true},"encoding":{"x":{"field":"t","type":"quantitative","scale":{"domain":[0,1500],"nice":false},"axis":null},"y":{"field":"s1","type":"quantitative","scale":{"domain":[-0.27,5.57],"nice":false,"zero":false},"axis":{"values":[0,1,2,3,4,5],"title":"Potential [eV]"}},"color":{"datum":"S₁","scale":{"domain":["S₁","S₀","Active"],"range":["#ff00ff","#006400","#000000"]},"legend":{"title":null,"orient":"none","legendX":12,"legendY":12,"columns":2,"columnPadding":27,"rowPadding":11,"clipHeight":26}},"strokeDash":{"datum":"S₁","scale":{"domain":["S₁","S₀","Active"],"range":[[1,0],[1,0],[1.5,1.5]]},"legend":{"title":null,"orient":"none","legendX":12,"legendY":12,"columns":2,"columnPadding":27,"rowPadding":11,"clipHeight":26}}}},
   {"mark":{"type":"line","clip":true},"encoding":{"x":{"field":"t","type":"quantitative","scale":{"domain":[0,1500],"nice":false},"axis":null},"y":{"field":"s0","type":"quantitative","scale":{"domain":[-0.27,5.57],"nice":false,"zero":false},"axis":{"values":[0,1,2,3,4,5],"title":"Potential [eV]"}},"color":{"datum":"S₀","scale":{"domain":["S₁","S₀","Active"],"range":["#ff00ff","#006400","#000000"]},"legend":{"title":null,"orient":"none","legendX":12,"legendY":12,"columns":2,"columnPadding":27,"rowPadding":11,"clipHeight":26}},"strokeDash":{"datum":"S₀","scale":{"domain":["S₁","S₀","Active"],"range":[[1,0],[1,0],[1.5,1.5]]},"legend":{"title":null,"orient":"none","legendX":12,"legendY":12,"columns":2,"columnPadding":27,"rowPadding":11,"clipHeight":26}}}},
   {"mark":{"type":"line","clip":true},"encoding":{"x":{"field":"t","type":"quantitative","scale":{"domain":[0,1500],"nice":false},"axis":null},"y":{"field":"act","type":"quantitative","scale":{"domain":[-0.27,5.57],"nice":false,"zero":false},"axis":{"values":[0,1,2,3,4,5],"title":"Potential [eV]"}},"color":{"datum":"Active","scale":{"domain":["S₁","S₀","Active"],"range":["#ff00ff","#006400","#000000"]},"legend":{"title":null,"orient":"none","legendX":12,"legendY":12,"columns":2,"columnPadding":27,"rowPadding":11,"clipHeight":26}},"strokeDash":{"datum":"Active","scale":{"domain":["S₁","S₀","Active"],"range":[[1,0],[1,0],[1.5,1.5]]},"legend":{"title":null,"orient":"none","legendX":12,"legendY":12,"columns":2,"columnPadding":27,"rowPadding":11,"clipHeight":26}}}},
   {"data":{"name":"H"},"transform":[{"filter":"datum.p==='b'"}],"mark":{"type":"circle","color":"#ff0000","size":45,"opacity":1},"encoding":{"x":{"field":"t","type":"quantitative","scale":{"domain":[0,1500],"nice":false},"axis":null},"y":{"field":"v","type":"quantitative","scale":{"domain":[-0.27,5.57],"nice":false,"zero":false},"axis":{"values":[0,1,2,3,4,5],"title":"Potential [eV]"}}}}
  ]},
 {"width":487,"height":126,
  "layer":[
   {"data":{"name":"Pb"},"mark":{"type":"line","clip":true,"strokeWidth":1.3},"encoding":{"x":{"field":"t","type":"quantitative","scale":{"domain":[0,1500],"nice":false},"axis":{"values":[0,500,1000,1500],"labels":false,"title":null}},"y":{"field":"v","type":"quantitative","scale":{"domain":[0,90.5],"nice":false},"axis":{"values":[0,20,40,60,80],"title":"φ / deg."}},"color":{"datum":"φ","scale":{"domain":["φ","d"],"range":["#0000ff","#ff8c00"]},"legend":{"title":null,"orient":"none","legendX":14,"legendY":6,"columns":2,"columnPadding":33,"clipHeight":22,"labelFontStyle":"italic"}}}},
   {"data":{"name":"Db"},"mark":{"type":"line","clip":true,"strokeWidth":1.3},"encoding":{"x":{"field":"t","type":"quantitative","scale":{"domain":[0,1500],"nice":false},"axis":{"values":[0,500,1000,1500],"labels":false,"title":null}},"y":{"field":"v","type":"quantitative","scale":{"domain":[2.82,5.08],"nice":false,"zero":false},"axis":{"orient":"right","values":[3,4,5],"title":"d / Å","titleAngle":270,"titleBaseline":"top"}},"color":{"datum":"d","scale":{"domain":["φ","d"],"range":["#0000ff","#ff8c00"]},"legend":{"title":null,"orient":"none","legendX":14,"legendY":6,"columns":2,"columnPadding":33,"clipHeight":22,"labelFontStyle":"italic"}}}}
  ],
  "resolve":{"scale":{"y":"independent"}}}
]},
{"bounds":"flush","spacing":4,"resolve":{"scale":{"color":"independent","strokeDash":"independent"}},"vconcat":[
 {"width":487,"height":200,"title":{"text":"(c) 2OTPE, via twist-type MECX"},"data":{"name":"Ec"},
  "layer":[
   {"mark":{"type":"line","clip":true},"encoding":{"x":{"field":"t","type":"quantitative","scale":{"domain":[0,1500],"nice":false},"axis":null},"y":{"field":"s1","type":"quantitative","scale":{"domain":[-0.27,5.57],"nice":false,"zero":false},"axis":{"values":[0,1,2,3,4,5],"title":"Potential [eV]"}},"color":{"datum":"S₁","scale":{"domain":["S₁","S₀","Active"],"range":["#ff00ff","#006400","#000000"]},"legend":{"title":null,"orient":"none","legendX":12,"legendY":12,"columns":2,"columnPadding":27,"rowPadding":11,"clipHeight":26}},"strokeDash":{"datum":"S₁","scale":{"domain":["S₁","S₀","Active"],"range":[[1,0],[1,0],[1.5,1.5]]},"legend":{"title":null,"orient":"none","legendX":12,"legendY":12,"columns":2,"columnPadding":27,"rowPadding":11,"clipHeight":26}}}},
   {"mark":{"type":"line","clip":true},"encoding":{"x":{"field":"t","type":"quantitative","scale":{"domain":[0,1500],"nice":false},"axis":null},"y":{"field":"s0","type":"quantitative","scale":{"domain":[-0.27,5.57],"nice":false,"zero":false},"axis":{"values":[0,1,2,3,4,5],"title":"Potential [eV]"}},"color":{"datum":"S₀","scale":{"domain":["S₁","S₀","Active"],"range":["#ff00ff","#006400","#000000"]},"legend":{"title":null,"orient":"none","legendX":12,"legendY":12,"columns":2,"columnPadding":27,"rowPadding":11,"clipHeight":26}},"strokeDash":{"datum":"S₀","scale":{"domain":["S₁","S₀","Active"],"range":[[1,0],[1,0],[1.5,1.5]]},"legend":{"title":null,"orient":"none","legendX":12,"legendY":12,"columns":2,"columnPadding":27,"rowPadding":11,"clipHeight":26}}}},
   {"mark":{"type":"line","clip":true},"encoding":{"x":{"field":"t","type":"quantitative","scale":{"domain":[0,1500],"nice":false},"axis":null},"y":{"field":"act","type":"quantitative","scale":{"domain":[-0.27,5.57],"nice":false,"zero":false},"axis":{"values":[0,1,2,3,4,5],"title":"Potential [eV]"}},"color":{"datum":"Active","scale":{"domain":["S₁","S₀","Active"],"range":["#ff00ff","#006400","#000000"]},"legend":{"title":null,"orient":"none","legendX":12,"legendY":12,"columns":2,"columnPadding":27,"rowPadding":11,"clipHeight":26}},"strokeDash":{"datum":"Active","scale":{"domain":["S₁","S₀","Active"],"range":[[1,0],[1,0],[1.5,1.5]]},"legend":{"title":null,"orient":"none","legendX":12,"legendY":12,"columns":2,"columnPadding":27,"rowPadding":11,"clipHeight":26}}}},
   {"data":{"name":"H"},"transform":[{"filter":"datum.p==='c'"}],"mark":{"type":"circle","color":"#ff0000","size":45,"opacity":1},"encoding":{"x":{"field":"t","type":"quantitative","scale":{"domain":[0,1500],"nice":false},"axis":null},"y":{"field":"v","type":"quantitative","scale":{"domain":[-0.27,5.57],"nice":false,"zero":false},"axis":{"values":[0,1,2,3,4,5],"title":"Potential [eV]"}}}}
  ]},
 {"width":487,"height":126,
  "layer":[
   {"data":{"name":"Pc"},"mark":{"type":"line","clip":true,"strokeWidth":1.3},"encoding":{"x":{"field":"t","type":"quantitative","scale":{"domain":[0,1500],"nice":false},"axis":{"values":[0,500,1000,1500],"format":"d","title":"t / fs","labelPadding":10,"titlePadding":9}},"y":{"field":"v","type":"quantitative","scale":{"domain":[0,90.5],"nice":false},"axis":{"values":[0,20,40,60,80],"title":"φ / deg."}},"color":{"datum":"φ","scale":{"domain":["φ","d"],"range":["#0000ff","#ff8c00"]},"legend":{"title":null,"orient":"none","legendX":14,"legendY":6,"columns":2,"columnPadding":33,"clipHeight":22,"labelFontStyle":"italic"}}}},
   {"data":{"name":"Dc"},"mark":{"type":"line","clip":true,"strokeWidth":1.3},"encoding":{"x":{"field":"t","type":"quantitative","scale":{"domain":[0,1500],"nice":false},"axis":{"values":[0,500,1000,1500],"format":"d","title":"t / fs","labelPadding":10,"titlePadding":9}},"y":{"field":"v","type":"quantitative","scale":{"domain":[2.4,5.1],"nice":false,"zero":false},"axis":{"orient":"right","values":[3,4,5],"title":"d / Å","titleAngle":270,"titleBaseline":"top"}},"color":{"datum":"d","scale":{"domain":["φ","d"],"range":["#0000ff","#ff8c00"]},"legend":{"title":null,"orient":"none","legendX":14,"legendY":6,"columns":2,"columnPadding":33,"clipHeight":22,"labelFontStyle":"italic"}}}}
  ],
  "resolve":{"scale":{"y":"independent"}}}
]}
]
}
